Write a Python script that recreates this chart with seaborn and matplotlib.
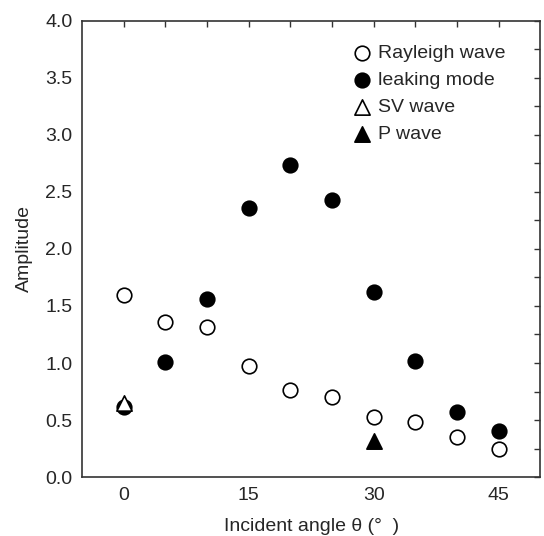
import numpy as np
import pandas as pd
from matplotlib import pyplot as plt
from matplotlib.ticker import MultipleLocator, FixedLocator
import seaborn as sb

sb.set_style('white')
plt.rcParams['font.family'] = ['Liberation Sans', 'DejaVu Sans']

# data
angle = [0, 5, 10, 15, 20, 25, 30, 35, 40, 45]
rayleigh = [1.60, 1.36, 1.32, 0.97, 0.76, 0.70, 0.53, 0.48, 0.35, 0.25]
leaking = [0.61, 1.01, 1.56, 2.36, 2.74, 2.43, 1.62, 1.02, 0.57, 0.40]
sv_angle = [0]
sv_amp = [0.65]
p_angle = [30]
p_amp = [0.32]

fig = plt.figure(figsize=(5.44, 5.36), dpi=100)
ax = fig.add_axes([0.151, 0.110, 0.842, 0.851])

ms = 110
sb.scatterplot(x=angle, y=rayleigh, ax=ax, marker='o', s=ms,
               facecolor='white', edgecolor='black', linewidth=1.2,
               label='Rayleigh wave', zorder=3)
sb.scatterplot(x=angle, y=leaking, ax=ax, marker='o', s=ms,
               color='black', edgecolor='black', linewidth=1.2,
               label='leaking mode', zorder=3)
sb.scatterplot(x=sv_angle, y=sv_amp, ax=ax, marker='^', s=ms * 1.1,
               facecolor='white', edgecolor='black', linewidth=1.2,
               label='SV wave', zorder=4)
sb.scatterplot(x=p_angle, y=p_amp, ax=ax, marker='^', s=ms * 1.1,
               color='black', edgecolor='black', linewidth=1.2,
               label='P wave', zorder=4)

ax.set_xlim(-5, 50)
ax.set_ylim(0, 4.0)
ax.xaxis.set_major_locator(FixedLocator([0, 15, 30, 45]))
ax.xaxis.set_minor_locator(FixedLocator([5, 10, 20, 25, 35, 40]))
ax.yaxis.set_major_locator(MultipleLocator(0.5))
ax.yaxis.set_minor_locator(MultipleLocator(0.25))
ax.yaxis.set_major_formatter(plt.FormatStrFormatter('%.1f'))
ax.tick_params(which='both', direction='in', top=True, right=True,
               length=4.5, width=1, color='#333333', labelsize=14, pad=7)

for s in ax.spines.values():
    s.set_color('#333333')
    s.set_linewidth(1.2)

ax.set_xlabel('Incident angle θ (°  )', fontsize=14, labelpad=10)
ax.set_ylabel('Amplitude', fontsize=14, labelpad=9)

ax.legend(loc='upper right', bbox_to_anchor=(0.955, 0.978), frameon=False,
          fontsize=14, handletextpad=0.35, labelspacing=0.48,
          handlelength=1.0, borderaxespad=0.3)

plt.savefig('out.png', dpi=100)
